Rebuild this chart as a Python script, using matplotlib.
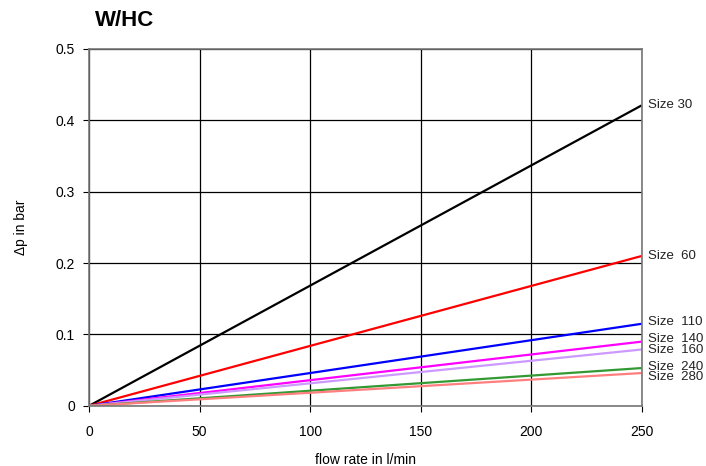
import matplotlib
matplotlib.use("Agg")
import matplotlib.pyplot as plt

# flow rate range and pressure drop at the end of each line
flow = [0, 250]
sizes = ["Size 30", "Size  60", "Size  110", "Size  140", "Size  160", "Size  240", "Size  280"]
dp_end = [0.421, 0.210, 0.115, 0.090, 0.079, 0.053, 0.046]
label_y = [0.421, 0.210, 0.118, 0.094, 0.078, 0.055, 0.040]
colors = ["#000000", "#ff0000", "#0000ff", "#ff00ff", "#cc99ff", "#339933", "#ff7f7f"]

x_ticks = [0, 50, 100, 150, 200, 250]
y_ticks = [0, 0.1, 0.2, 0.3, 0.4, 0.5]
y_ticklabels = ["0", "0.1", "0.2", "0.3", "0.4", "0.5"]

plt.rcParams["font.family"] = ["Liberation Sans", "DejaVu Sans"]

fig = plt.figure(figsize=(7.06, 4.66), dpi=100)
ax = fig.add_axes([0.126, 0.129, 0.783, 0.766])

for name, end, ly, c in zip(sizes, dp_end, label_y, colors):
    ax.plot(flow, [0, end], color=c, lw=1.6, solid_capstyle="butt")
    ax.text(253, ly, name, fontsize=9.5, va="center", ha="left", color="#222222")

ax.set_xlim(0, 250)
ax.set_ylim(0, 0.5)
ax.set_xticks(x_ticks)
ax.set_yticks(y_ticks)
ax.set_yticklabels(y_ticklabels)
ax.grid(True, color="black", lw=0.9)
ax.set_axisbelow(True)
for s in ax.spines.values():
    s.set_color("#777777")
    s.set_linewidth(1.2)
ax.tick_params(labelsize=10, color="black", length=4, pad=6)
ax.tick_params(axis="x", pad=10)

ax.set_xlabel("flow rate in l/min", fontsize=10, labelpad=10)
ax.set_ylabel("\u0394p in bar", fontsize=10, labelpad=20)
fig.text(0.135, 0.955, "W/HC", fontsize=16, fontweight="bold", va="center", ha="left")

fig.savefig("out.png", dpi=100)
